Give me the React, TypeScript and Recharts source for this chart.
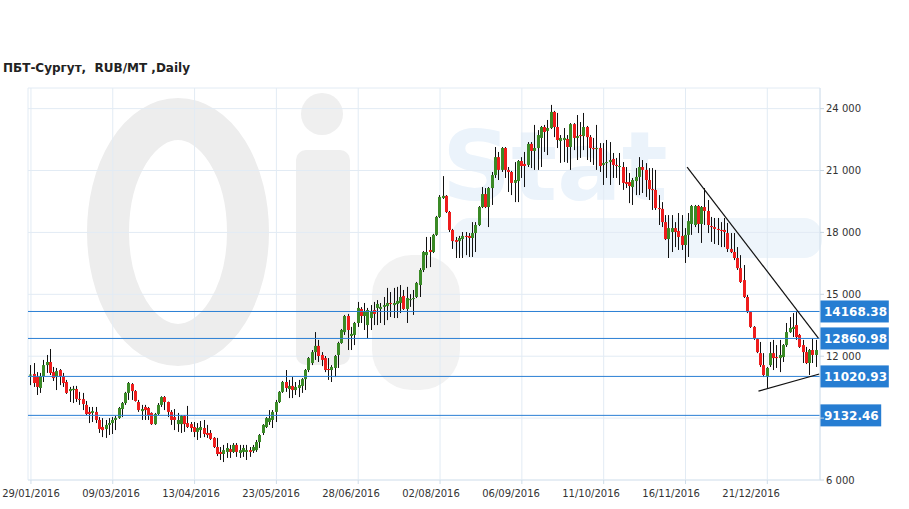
import React from 'react';
import { ComposedChart, Bar, XAxis, YAxis, CartesianGrid, ReferenceLine } from 'recharts';

// daily OHLC, 29/01/2016 .. late 01/2017 (one value per trading day)
const openPrices = [
  11060, 11140, 10990, 10460, 11040, 11570, 11720, 11230, 10990, 11330,
  11040, 10750, 10310, 10360, 10410, 9930, 9920, 9640, 9300, 9250,
  9300, 8910, 8570, 8470, 8670, 8760, 8910, 9010, 9440, 9730,
  10220, 10650, 10310, 9780, 9340, 9540, 9490, 9250, 8710, 9200,
  9640, 10020, 9780, 9300, 9050, 8710, 8710, 9100, 8760, 8710,
  8570, 8330, 8420, 8520, 8280, 8280, 8040, 7600, 7360, 7260,
  7360, 7500, 7360, 7700, 7310, 7360, 7360, 7450, 7410, 7450,
  7840, 8280, 8570, 8810, 8910, 9300, 9780, 10270, 10750, 10410,
  10560, 10360, 10460, 10560, 10890, 11330, 11670, 12200, 12500, 12060,
  11910, 11380, 11330, 11430, 12060, 12640, 13170, 13950, 12980, 13030,
  13610, 14290, 13950, 13510, 13850, 14240, 14340, 14290, 14390, 14430,
  14580, 14480, 14530, 14580, 14920, 14290, 14720, 14770, 14870, 15450,
  16180, 16900, 17150, 17050, 17880, 18750, 19670, 19770, 18990, 18120,
  17630, 17580, 17680, 17830, 17830, 17730, 17970, 18360, 19230, 19860,
  19230, 20150, 20780, 21650, 21030, 22090, 21030, 20930, 20400, 20490,
  21460, 21320, 21270, 22290, 21950, 22090, 22580, 23110, 22920, 23060,
  23840, 23110, 22430, 22480, 22530, 22140, 23250, 22580, 22720, 22670,
  23110, 22620, 22090, 22040, 22090, 21270, 21360, 21410, 21560, 21270,
  21170, 21170, 20440, 20440, 20200, 20490, 20690, 21170, 21030, 20540,
  20100, 20060, 19180, 19140, 18500, 17680, 18020, 18210, 18070, 17830,
  17390, 17880, 18410, 18360, 19280, 18410, 19230, 19040, 18310, 18260,
  18170, 18120, 18120, 17970, 17200, 17050, 16760, 16270, 15690, 14870,
  14140, 13420, 12830, 12150, 11570, 10990, 11570, 12150, 11960, 11910,
  11960, 12540, 13170, 13320, 13510, 13030, 12540, 12200, 11670, 12300, 12060,
];
const highPrices = [
  11570, 11670, 11230, 11190, 11820, 12060, 12350, 11480, 11430, 11380,
  11190, 10850, 10510, 10560, 10560, 10270, 10220, 9830, 9540, 9540,
  9540, 9050, 9000, 8910, 9000, 9050, 9100, 9540, 9780, 10270,
  10750, 10700, 10360, 9880, 9640, 9640, 9540, 9280, 9250, 9730,
  10060, 10070, 9800, 9390, 9440, 9250, 9150, 9150, 9590, 8810,
  8810, 8760, 8860, 8910, 8670, 8420, 8080, 8040, 7600, 7700,
  7790, 7700, 7790, 7790, 7700, 7700, 7700, 7600, 7700, 7940,
  8230, 8710, 9050, 9390, 9390, 9880, 10310, 10800, 11330, 10850,
  10990, 10750, 10850, 10940, 11380, 11960, 12300, 13170, 12790, 12200,
  12010, 11910, 11570, 12060, 12700, 13320, 14000, 14050, 13420, 13660,
  14630, 14380, 14580, 14340, 14480, 14630, 14720, 14580, 14870, 15310,
  15110, 15310, 15360, 15450, 15210, 15360, 15010, 15210, 15600, 16270,
  17100, 17780, 17780, 17930, 18800, 19810, 20730, 19810, 19040, 18170,
  17780, 17830, 18020, 18020, 17970, 18500, 18500, 19280, 20200, 20150,
  20200, 20930, 22140, 21900, 22140, 22140, 21170, 20980, 21410, 21510,
  21650, 21900, 22380, 22380, 23210, 22960, 23160, 23210, 23450, 24180,
  23890, 23790, 22720, 23060, 22720, 23300, 23300, 23690, 23350, 23790,
  23160, 22720, 22580, 23210, 22330, 22330, 22480, 22380, 21850, 21610,
  21850, 21410, 21170, 20880, 20640, 21120, 21650, 21510, 21360, 21120,
  21120, 21030, 19810, 19470, 18840, 18840, 18840, 18500, 18940, 18840,
  18210, 18940, 19330, 19330, 19330, 19280, 20150, 19570, 18750, 18700,
  18700, 18500, 18700, 18460, 17970, 17970, 17290, 16900, 16420, 14970,
  14190, 13460, 12880, 12690, 12150, 11480, 12690, 12790, 12540, 12790,
  12590, 13610, 13900, 14090, 14140, 13080, 12790, 12450, 12350, 12880, 12790,
];
const lowPrices = [
  10600, 10510, 10120, 10220, 10750, 11190, 11090, 10800, 10360, 10600,
  10510, 10170, 9780, 9730, 9780, 9640, 9390, 9150, 8760, 8810,
  8760, 8280, 8080, 8040, 8180, 8230, 8420, 8960, 9050, 9640,
  9880, 9880, 9800, 9300, 8910, 8910, 8910, 8670, 8670, 9150,
  9540, 9390, 9050, 8670, 8420, 8330, 8280, 8330, 8520, 8330,
  8080, 7940, 8040, 8080, 8040, 7940, 7550, 7160, 6970, 6870,
  7070, 7070, 7310, 7120, 7070, 7120, 6970, 7120, 7310, 7360,
  7550, 8180, 8520, 8670, 8520, 8810, 9730, 10220, 10270, 9970,
  9970, 10120, 10020, 10220, 10360, 11230, 11570, 11820, 11720, 11520,
  11230, 10850, 10750, 10990, 11430, 12600, 13030, 12300, 12300, 12540,
  13420, 13610, 13270, 12880, 13270, 13510, 13510, 13610, 13510, 13750,
  13900, 13850, 13850, 14090, 14240, 13610, 14390, 14000, 14820, 14870,
  16080, 16270, 16320, 17000, 17830, 18700, 19620, 18940, 18020, 17200,
  16760, 16760, 16760, 16900, 16810, 16810, 17050, 18310, 19180, 19180,
  18260, 19330, 20640, 20540, 20930, 20640, 19960, 19810, 19470, 19470,
  20640, 20200, 21170, 21120, 21030, 21030, 21170, 21900, 21750, 23010,
  22620, 22090, 21370, 21410, 21370, 21030, 21990, 21510, 21610, 21990,
  21510, 21410, 21270, 21030, 20930, 20300, 20640, 20300, 20640, 20640,
  20300, 20060, 20150, 19420, 19330, 19810, 19810, 19910, 19720, 19570,
  19090, 19090, 18360, 18260, 17630, 16760, 17050, 17290, 17150, 17150,
  16520, 16810, 17880, 18260, 17970, 17490, 18360, 17970, 17540, 17440,
  17390, 17290, 17290, 17050, 17000, 16660, 16180, 15550, 14820, 14090,
  13370, 12790, 12150, 11480, 10990, 10460, 11480, 11330, 11430, 11230,
  11720, 12450, 13130, 12930, 12790, 12400, 11670, 11620, 11090, 11670, 11480,
];
const closePrices = [
  11110, 10700, 10510, 11040, 11570, 11720, 11190, 10940, 11280, 11040,
  10700, 10220, 10410, 10420, 9930, 9880, 9680, 9200, 9200, 9340,
  8910, 8470, 8420, 8670, 8760, 8910, 9010, 9490, 9730, 10220,
  10700, 10310, 9830, 9390, 9440, 9390, 9150, 8710, 9200, 9640,
  10020, 9780, 9300, 8910, 8910, 8910, 9100, 8710, 8570, 8520,
  8330, 8520, 8570, 8230, 8180, 7990, 7600, 7260, 7260, 7450,
  7550, 7360, 7700, 7360, 7450, 7550, 7450, 7360, 7600, 7840,
  8180, 8670, 9000, 9000, 9300, 9780, 10270, 10750, 10460, 10560,
  10360, 10510, 10600, 10890, 11330, 11910, 12200, 12500, 12010, 11820,
  11330, 11330, 11480, 12010, 12640, 13270, 13950, 13270, 13080, 13610,
  14340, 13950, 14140, 14240, 14190, 14050, 14530, 14390, 14480, 14580,
  14530, 14580, 14680, 14870, 14290, 14820, 14770, 14820, 15550, 16180,
  17050, 17050, 17050, 17880, 18750, 19720, 19770, 18990, 18120, 17580,
  17540, 17730, 17830, 17780, 17730, 17970, 18360, 19230, 19860, 19230,
  20150, 20780, 21650, 21030, 22090, 21030, 20930, 20400, 20540, 21460,
  21220, 21220, 22290, 21950, 22090, 22720, 23110, 22870, 23060, 23840,
  23110, 22480, 22580, 22580, 22140, 23250, 22580, 22670, 22670, 23110,
  22620, 22090, 22040, 22090, 21220, 21360, 21410, 21510, 21270, 21220,
  21220, 20400, 20350, 20250, 20540, 20690, 21170, 21030, 20540, 20100,
  20060, 19180, 19140, 18500, 17680, 18210, 18210, 18020, 17780, 17390,
  17880, 18550, 19280, 19280, 18410, 19230, 19040, 18360, 18260, 18170,
  18120, 18070, 18020, 17200, 17050, 16760, 16270, 15600, 14870, 14140,
  13420, 12880, 12200, 11570, 11090, 11430, 12150, 11910, 11910, 12060,
  12540, 13170, 13370, 13420, 12930, 12450, 12200, 11670, 12300, 12060, 12300,
];

const dateTicks = [0, 25, 50, 75, 100, 125, 150, 175, 200, 225];
const dateLabels = [
  '29/01/2016', '09/03/2016', '13/04/2016', '23/05/2016', '28/06/2016',
  '02/08/2016', '06/09/2016', '11/10/2016', '16/11/2016', '21/12/2016',
];
const priceTicks = [6000, 9000, 12000, 15000, 18000, 21000, 24000];
const levels = [14168.38, 12860.98, 11020.93, 9132.46];
const resistance = [{ x: 200.5, y: 21170 }, { x: 240.6, y: 12880 }];
const support = [{ x: 222.3, y: 10310 }, { x: 240.9, y: 11140 }];

const candles = openPrices.map((open, i) => ({
  i,
  open,
  high: highPrices[i],
  low: lowPrices[i],
  close: closePrices[i],
  range: [lowPrices[i], highPrices[i]],
}));

const FONT = '"DejaVu Sans", Verdana, sans-serif';

const Candle = (props: any) => {
  const { x, y, width, height, payload } = props;
  const { open, close, high, low } = payload;
  const k = height / (high - low);
  const cx = Math.floor(x + width / 2);
  const yO = y + (high - open) * k;
  const yC = y + (high - close) * k;
  const top = Math.min(yO, yC);
  const h = Math.max(Math.abs(yC - yO), 1);
  const up = close >= open;
  return (
    <g>
      <line x1={cx + 0.5} x2={cx + 0.5} y1={y} y2={y + height} stroke="#111" strokeWidth={1} />
      <rect x={cx - 1} y={top} width={3} height={h} fill={up ? '#3a8a26' : '#ee1d1d'} />
    </g>
  );
};

const DateTick = (props: any) => {
  const { x, y, payload, index } = props;
  const i = dateTicks.indexOf(payload.value);
  return (
    <text x={x - index * 1.8} y={y + 11} textAnchor="middle" fontSize={10} fontFamily={FONT} fill="#333">
      {dateLabels[i]}
    </text>
  );
};

// price labels sitting under a level tag are covered by it
const PriceTick = (props: any) => {
  const { x, y, payload } = props;
  if (levels.some((l) => Math.abs(l - payload.value) < 500)) return <g />;
  return (
    <text x={x} y={y + 3.5} fontSize={10} fontFamily={FONT} fill="#333">
      {fmt(payload.value)}
    </text>
  );
};

const LevelTag = ({ viewBox, value }: any) => {
  const text = value.toFixed(2);
  const w = text.length * 7.6 + 8;
  const x0 = viewBox.x + viewBox.width;
  return (
    <g>
      <rect x={x0} y={viewBox.y - 11} width={w} height={22} fill="#267dd2" />
      <text x={x0 + 4} y={viewBox.y + 4.5} fill="#fff" fontSize={12} fontWeight="bold" fontFamily={FONT}>
        {text}
      </text>
    </g>
  );
};

const fmt = (v: number) => String(v).replace(/\B(?=(\d{3})+(?!\d))/g, ' ');

const Watermark = () => (
  <svg width={909} height={509} style={{ position: 'absolute', left: 0, top: 0 }}>
    <text x={3} y={72} fontSize={12} fontWeight="bold" fontFamily={FONT} fill="#222" style={{ whiteSpace: 'pre' }}>
      {'ПБТ-Сургут,  RUB/MT ,Daily'}
    </text>
    <ellipse cx={178} cy={232} rx={70} ry={113} fill="none" stroke="#ededed" strokeWidth={42} />
    <circle cx={322} cy={114} r={21} fill="#efefef" />
    <rect x={296} y={150} width={54} height={215} rx={10} fill="#efefef" />
    <rect x={372} y={255} width={88} height={135} rx={40} fill="#f2f2f2" />
    <text x={442} y={200} fontSize={96} fontWeight="bold" fontFamily={FONT} fill="#ebf3fb">Stat</text>
    <rect x={452} y={218} width={370} height={40} rx={18} fill="#eef5fb" />
  </svg>
);

export default function App() {
  return (
    <div style={{ position: 'absolute', left: 0, top: 0, width: 909, height: 509, background: '#fff' }}>
      <Watermark />
      <div style={{ position: 'absolute', left: 0, top: 0 }}>
        <ComposedChart width={909} height={509} data={candles} margin={{ top: 88, right: 0, bottom: 0, left: 28 }}>
          <CartesianGrid yAxisId="r" stroke="#e2ebf4" strokeWidth={1} />
          <XAxis
            dataKey="i"
            type="number"
            domain={[-0.9, 241.1]}
            ticks={dateTicks}
            interval={0}
            allowDataOverflow
            height={29}
            tick={<DateTick />}
            tickSize={4}
            tickMargin={2}
            axisLine={{ stroke: '#dbe6f0' }}
            tickLine={{ stroke: '#cfdde9' }}
          />
          <YAxis
            yAxisId="l"
            orientation="left"
            width={0}
            domain={[6000, 25000]}
            ticks={priceTicks}
            allowDataOverflow
            tickFormatter={() => ''}
            tickSize={4}
            axisLine={{ stroke: '#dbe7f2', strokeWidth: 3 }}
            tickLine={{ stroke: '#cfdde9' }}
          />
          <YAxis
            yAxisId="r"
            orientation="right"
            width={89}
            domain={[6000, 25000]}
            ticks={priceTicks}
            allowDataOverflow
            tick={<PriceTick />}
            tickSize={4}
            tickMargin={2}
            axisLine={{ stroke: '#d5e2ee' }}
            tickLine={{ stroke: '#c8d6e2' }}
          />
          <Bar yAxisId="r" dataKey="range" barSize={3} shape={<Candle />} isAnimationActive={false} />
          {levels.map((v) => (
            <ReferenceLine
              key={v}
              yAxisId="r"
              y={v}
              stroke="#2a7fd4"
              strokeWidth={1}
              label={(p: any) => <LevelTag viewBox={p.viewBox} value={v} />}
            />
          ))}
          <ReferenceLine yAxisId="r" segment={resistance} stroke="#111" strokeWidth={1.2} ifOverflow="visible" />
          <ReferenceLine yAxisId="r" segment={support} stroke="#111" strokeWidth={1.2} ifOverflow="visible" />
        </ComposedChart>
      </div>
    </div>
  );
}
